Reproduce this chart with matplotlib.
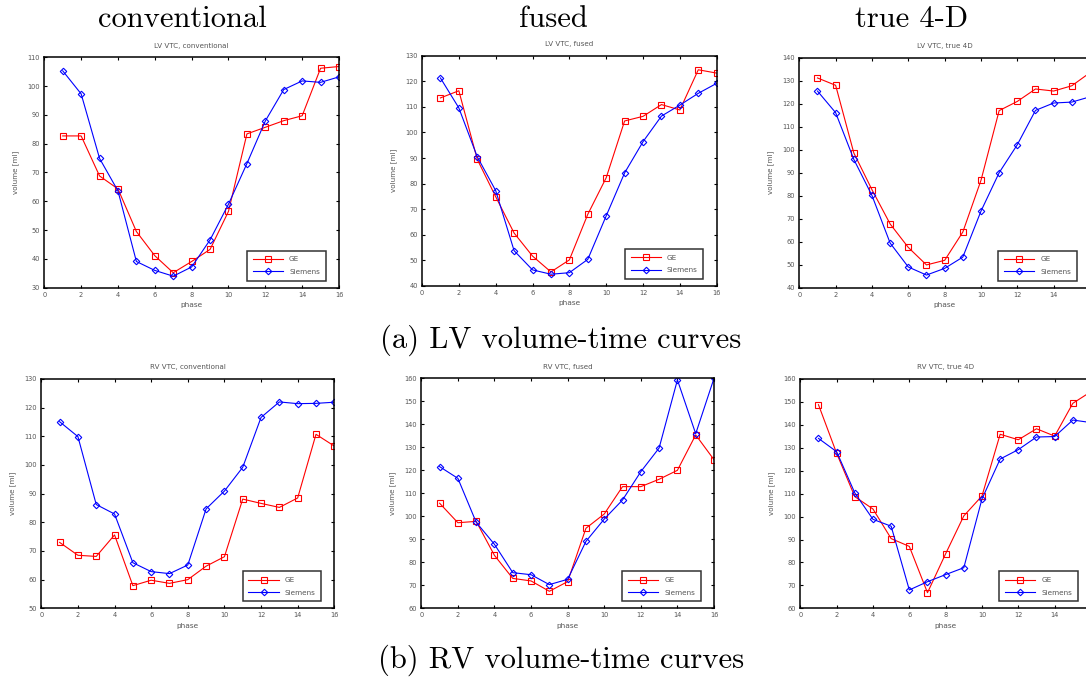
import numpy as np
import matplotlib
matplotlib.use('Agg')
import matplotlib.pyplot as plt

# ================================
# Data
# ================================
phase = np.arange(1, 17)

lv_conv_ge = [82.7, 82.7, 68.8, 64.3, 49.5, 41.1, 35.2, 39.1, 43.3, 56.5, 83.4, 85.7, 88.0, 89.7, 106.2, 106.8]
lv_conv_si = [105.3, 97.3, 74.9, 63.6, 39.1, 36.0, 34.0, 37.2, 46.6, 59.0, 73.1, 87.9, 98.8, 101.8, 101.3, 103.2]

lv_fused_ge = [113.5, 116.3, 89.5, 74.9, 60.7, 51.7, 45.5, 50.2, 68.0, 82.3, 104.5, 106.3, 110.9, 108.8, 124.5, 123.2]
lv_fused_si = [121.3, 109.6, 90.5, 77.3, 53.8, 46.3, 44.6, 45.2, 50.4, 67.4, 84.2, 96.4, 106.4, 110.7, 115.3, 119.2]

lv_true_ge = [131.2, 128.0, 98.6, 82.6, 67.7, 57.5, 49.9, 51.9, 64.2, 86.7, 117.0, 121.0, 126.4, 125.5, 127.8, 133.5]
lv_true_si = [125.5, 116.1, 95.8, 80.1, 59.4, 49.0, 45.5, 48.4, 53.3, 73.3, 90.0, 102.2, 117.1, 120.3, 120.7, 123.0]

rv_conv_ge = [73.0, 68.5, 68.1, 75.6, 57.9, 59.8, 58.7, 60.0, 64.7, 68.0, 88.1, 86.6, 85.2, 88.5, 110.7, 106.6]
rv_conv_si = [115.1, 109.9, 86.2, 82.9, 65.9, 62.8, 62.1, 65.1, 84.7, 90.9, 99.2, 116.6, 122.0, 121.4, 121.5, 121.9]

rv_fused_ge = [105.7, 97.2, 97.8, 83.0, 73.0, 71.9, 67.4, 71.6, 94.8, 101.0, 112.9, 112.9, 116.1, 120.0, 135.4, 124.6]
rv_fused_si = [121.6, 116.5, 97.4, 87.8, 75.5, 74.6, 70.3, 72.6, 89.1, 98.8, 107.1, 119.4, 129.7, 159.3, 135.9, 160.0]

rv_true_ge = [148.8, 127.6, 108.7, 103.3, 90.4, 87.0, 66.8, 83.8, 100.3, 109.0, 135.9, 133.5, 138.3, 135.1, 149.4, 154.5]
rv_true_si = [134.1, 128.3, 110.3, 98.8, 95.8, 68.0, 71.6, 74.7, 77.7, 107.7, 125.1, 129.2, 134.7, 134.9, 142.1, 141.0]

col_headers = ['conventional', 'fused', 'true 4-D']
captions = ['(a) LV volume-time curves', '(b) RV volume-time curves']

W, H = 1086, 677
SMALL = 4.8
GREY = '#555555'


def px_rect(left, right, top, bottom):
    """pixel box (y from top) -> figure fraction rect"""
    return [left / W, 1 - bottom / H, (right - left) / W, (bottom - top) / H]


def draw_panel(fig, rect, ge, si, title, ylim, yticks, xmax_tick=16):
    ax = fig.add_axes(rect)
    ax.plot(phase, ge, color='red', linewidth=0.8, marker='s', markersize=4,
            markerfacecolor='none', markeredgecolor='red', markeredgewidth=0.8, label='GE')
    ax.plot(phase, si, color='blue', linewidth=0.8, marker='D', markersize=3.3,
            markerfacecolor='none', markeredgecolor='blue', markeredgewidth=0.8, label='Siemens')
    ax.set_xlim(0, 16)
    ax.set_ylim(*ylim)
    ax.set_xticks(np.arange(0, xmax_tick + 1, 2))
    ax.set_yticks(yticks)
    ax.tick_params(direction='in', top=True, right=True, length=2.5, width=0.8,
                   labelsize=SMALL, labelcolor=GREY, pad=3)
    for s in ax.spines.values():
        s.set_linewidth(1.1)
    ax.set_title(title, fontsize=SMALL + 0.3, color=GREY, pad=7)
    ax.set_xlabel('phase', fontsize=SMALL + 0.5, color=GREY, labelpad=3)
    ax.set_ylabel('volume [ml]', fontsize=SMALL + 0.3, color=GREY, labelpad=6)
    leg = ax.legend(loc='lower right', fontsize=SMALL + 0.4, frameon=True, fancybox=False,
                    bbox_to_anchor=(0.955, 0.03), borderaxespad=0,
                    handlelength=4.2, labelspacing=0.9,
                    borderpad=0.8, handletextpad=0.8)
    leg.get_frame().set_edgecolor('black')
    leg.get_frame().set_linewidth(1.1)
    for t in leg.get_texts():
        t.set_color(GREY)
    return ax


fig = plt.figure(figsize=(W / 100, H / 100), dpi=100)

draw_panel(fig, px_rect(44.3, 339, 57.3, 287.7), lv_conv_ge, lv_conv_si,
           'LV VTC, conventional', (30, 110), np.arange(30, 111, 10))
draw_panel(fig, px_rect(422, 716.7, 55.7, 286), lv_fused_ge, lv_fused_si,
           'LV VTC, fused', (40, 130), np.arange(40, 131, 10))
# right column is cropped by the figure edge, as in the source
draw_panel(fig, px_rect(799.3, 1090, 57.7, 287.7), lv_true_ge, lv_true_si,
           'LV VTC, true 4D', (40, 140), np.arange(40, 141, 10), xmax_tick=14)

draw_panel(fig, px_rect(41.3, 334.3, 379, 608.3), rv_conv_ge, rv_conv_si,
           'RV VTC, conventional', (50, 130), np.arange(50, 131, 10))
draw_panel(fig, px_rect(421.3, 714, 378.3, 608.3), rv_fused_ge, rv_fused_si,
           'RV VTC, fused', (60, 160), np.arange(60, 161, 10))
draw_panel(fig, px_rect(800.3, 1091, 379, 608.3), rv_true_ge, rv_true_si,
           'RV VTC, true 4D', (60, 160), np.arange(60, 161, 10), xmax_tick=14)

# column headers and captions (LaTeX look)
for x, txt in zip([182, 553, 912], col_headers):
    fig.text(x / W, 1 - 19 / H, txt, family='cmr10', fontsize=22,
             ha='center', va='center')
fig.text(561 / W, 1 - 340 / H, captions[0], family='cmr10', fontsize=22,
         ha='center', va='center')
fig.text(561 / W, 1 - 660 / H, captions[1], family='cmr10', fontsize=22,
         ha='center', va='center')

fig.savefig('out.png', dpi=100)
